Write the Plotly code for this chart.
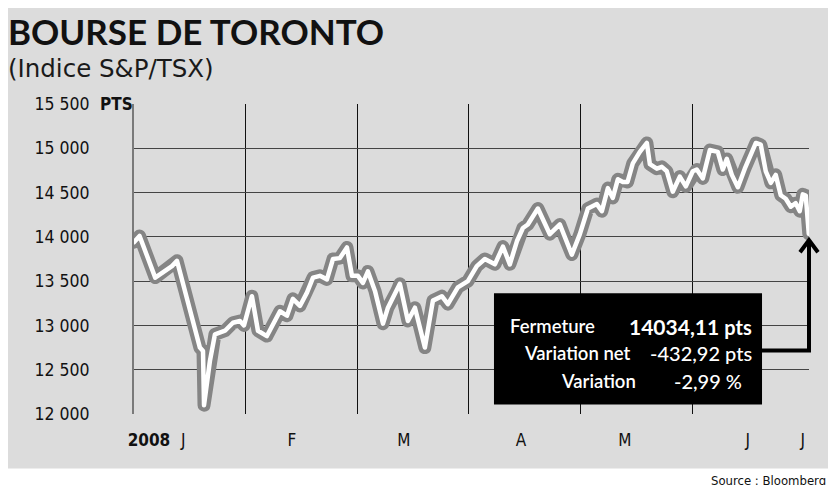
import plotly.graph_objects as go

# ---- data (x in chart grid units: one unit = one vertical grid interval) ----
session_x = [0.00, 0.05, 0.19, 0.30, 0.34, 0.385, 0.59, 0.618, 0.627, 0.68, 0.725, 0.815,
             0.886, 0.949, 0.985, 1.056, 1.11, 1.19, 1.307, 1.37, 1.423, 1.486, 1.549,
             1.603, 1.665, 1.728, 1.782, 1.844, 1.907, 1.952, 2.005, 2.05, 2.095, 2.158,
             2.23, 2.274, 2.355, 2.381, 2.453, 2.516, 2.605, 2.677, 2.757, 2.811, 2.90,
             2.99, 3.07, 3.142, 3.232, 3.304, 3.366, 3.429, 3.483, 3.527, 3.617, 3.724,
             3.814, 3.859, 3.921, 3.993, 4.065, 4.145, 4.19, 4.244, 4.288, 4.333, 4.378,
             4.42, 4.467, 4.53, 4.593, 4.62, 4.682, 4.727, 4.772, 4.825, 4.888, 4.942,
             5.004, 5.04, 5.094, 5.157, 5.228, 5.273, 5.309, 5.354, 5.408, 5.47, 5.569,
             5.613, 5.658, 5.703, 5.747, 5.792, 5.837, 5.882, 5.926, 5.962, 5.989, 6.016,
             6.043]
tsx_close = [13940, 14010, 13540, 13640, 13670, 13730, 12750, 12710, 12100, 12600, 12900, 12940,
             13030, 13050, 13000, 13330, 12940, 12880, 13160, 13110, 13300, 13220, 13370,
             13540, 13560, 13520, 13750, 13760, 13880, 13560, 13560, 13480, 13610, 13390,
             13020, 13200, 13390, 13470, 13050, 13200, 12750, 13280, 13330, 13240, 13430,
             13500, 13670, 13750, 13690, 13890, 13690, 13950, 14100, 14140, 14320, 14030,
             14140, 13990, 13800, 14030, 14320, 14370, 14290, 14550, 14440, 14650, 14620,
             14620, 14830, 14960, 15060, 14820, 14770, 14790, 14740, 14510, 14680, 14570,
             14740, 14760, 14660, 14980, 14960, 14760, 14880, 14700, 14560, 14770, 15060,
             15040, 14740, 14610, 14700, 14470, 14430, 14340, 14380, 14290, 14480, 14467.03,
             14034.11]

y_tick_values = [12000, 12500, 13000, 13500, 14000, 14500, 15000, 15500]
y_tick_labels = ["12 000", "12 500", "13 000", "13 500", "14 000", "14 500", "15 000", "15 500"]
y_grid_values = [12500, 13000, 13500, 14000, 14500, 15000]

x_label_pos = [0.134, 0.44, 1.415, 2.417, 3.465, 4.396, 5.497, 5.989]
x_labels = ["<b>2008</b>", "J", "F", "M", "A", "M", "J", "J"]
x_grid_pos = [1, 2, 3, 4, 5, 6.043]

box_labels = ["Fermeture", "Variation net", "Variation"]
box_values = ["<b><span style='font-size:21px'>14034,11</span></b> <b>pts</b>",
              "-432,92 pts", "-2,99 %"]

BG = "#dcdcdc"
NARROW = "DejaVu Sans Condensed, Liberation Sans Narrow, sans-serif"
GEO = "Lato, Noto Sans, sans-serif"

fig = go.Figure()
fig.add_trace(go.Scatter(x=session_x, y=tsx_close, mode="lines",
                         line=dict(color="#858585", width=13), hoverinfo="skip",
                         showlegend=False))
fig.add_trace(go.Scatter(x=session_x, y=tsx_close, mode="lines",
                         line=dict(color="white", width=4.5), showlegend=False))

shapes = []
shapes.append(dict(type="rect", xref="paper", yref="paper", x0=-0.1926, x1=1.05,
                   y0=-0.176, y1=1.34, fillcolor=BG, line=dict(width=0), layer="below"))
for lo, hi in zip(y_tick_values[1:-1:2], y_tick_values[2::2]):
    shapes.append(dict(type="rect", xref="paper", yref="y", x0=0, x1=1, y0=lo, y1=hi,
                       fillcolor=BG, line=dict(width=0), layer="below"))
shapes.append(dict(type="rect", xref="paper", yref="paper", x0=0.5333, x1=0.9304,
                   y0=0.0307, y1=0.3893, fillcolor="black", line=dict(width=0)))
shapes.append(dict(type="path", xref="paper", yref="paper",
                   path="M 0.93 0.2052 L 1.0 0.2052 L 1.0 0.556",
                   line=dict(color="black", width=4)))
shapes.append(dict(type="path", xref="paper", yref="paper",
                   path="M 0.9867 0.5218 L 1.0 0.5606 L 1.0133 0.5218",
                   line=dict(color="black", width=4)))

annotations = [
    dict(text="<b>BOURSE DE TORONTO</b>", xref="paper", yref="paper", x=-0.1896, y=1.235,
         xanchor="left", yanchor="middle", showarrow=False,
         font=dict(family=GEO, size=35, color="#111", weight=900)),
    dict(text="(Indice S&P/TSX)", xref="paper", yref="paper", x=-0.1896, y=1.116,
         xanchor="left", yanchor="middle", showarrow=False,
         font=dict(family="DejaVu Sans, sans-serif", size=24.5, color="#1a1a1a")),
    dict(text="<b>PTS</b>", xref="paper", yref="paper", x=-0.0533, y=1.0016,
         xanchor="left", yanchor="middle", showarrow=False,
         font=dict(family=NARROW, size=17, color="#111")),
    dict(text="Source : Bloomberg", xref="paper", yref="paper", x=0.852, y=-0.215,
         xanchor="left", yanchor="middle", showarrow=False,
         font=dict(family=NARROW, size=13, color="#111")),
]
label_right = [0.686, 0.739, 0.747]
value_right = [0.919, 0.919, 0.903]
row_y = [0.2827, 0.1955, 0.1050]
for lab, val, lx, vx, ry in zip(box_labels, box_values, label_right, value_right, row_y):
    annotations.append(dict(text=lab, xref="paper", yref="paper", x=lx, y=ry,
                            xanchor="right", yanchor="middle", showarrow=False,
                            font=dict(family=GEO, size=18.5, color="white", weight=600)))
    annotations.append(dict(text=val, xref="paper", yref="paper", x=vx, y=ry,
                            xanchor="right", yanchor="middle", showarrow=False,
                            font=dict(family=GEO, size=20, color="white", weight=500)))

fig.update_layout(
    width=828, height=477,
    margin=dict(l=126, r=27, t=96, b=71),
    paper_bgcolor="white", plot_bgcolor="white",
    shapes=shapes, annotations=annotations,
    xaxis=dict(range=[0, 6.045], tickmode="array", tickvals=x_label_pos, ticktext=x_labels,
               showgrid=False, zeroline=False, showline=False, ticks="",
               ticklabelstandoff=14,
               tickfont=dict(family=NARROW, size=17, color="#111"),
               minor=dict(tickmode="array", tickvals=x_grid_pos, showgrid=True,
                          gridcolor="#111", gridwidth=1, ticks="")),
    yaxis=dict(range=[12000, 15500], tickmode="array", tickvals=y_tick_values,
               ticktext=y_tick_labels, showgrid=False, zeroline=False,
               showline=True, linecolor="#7a7a7a", linewidth=2, ticks="",
               ticklabelstandoff=39,
               tickfont=dict(family=NARROW, size=17.5, color="#111"),
               minor=dict(tickmode="array", tickvals=y_grid_values, showgrid=True,
                          gridcolor="#444", gridwidth=1, ticks="")),
)

round_joins = (
    "var gd=document.getElementById('{plot_id}');"
    "function rj(){gd.querySelectorAll('.scatterlayer .js-line').forEach(function(p){"
    "p.style.strokeLinejoin='round';p.style.strokeLinecap='round';});}"
    "rj();gd.on('plotly_afterplot',rj);"
)
fig.write_html("out.html", post_script=round_joins)
